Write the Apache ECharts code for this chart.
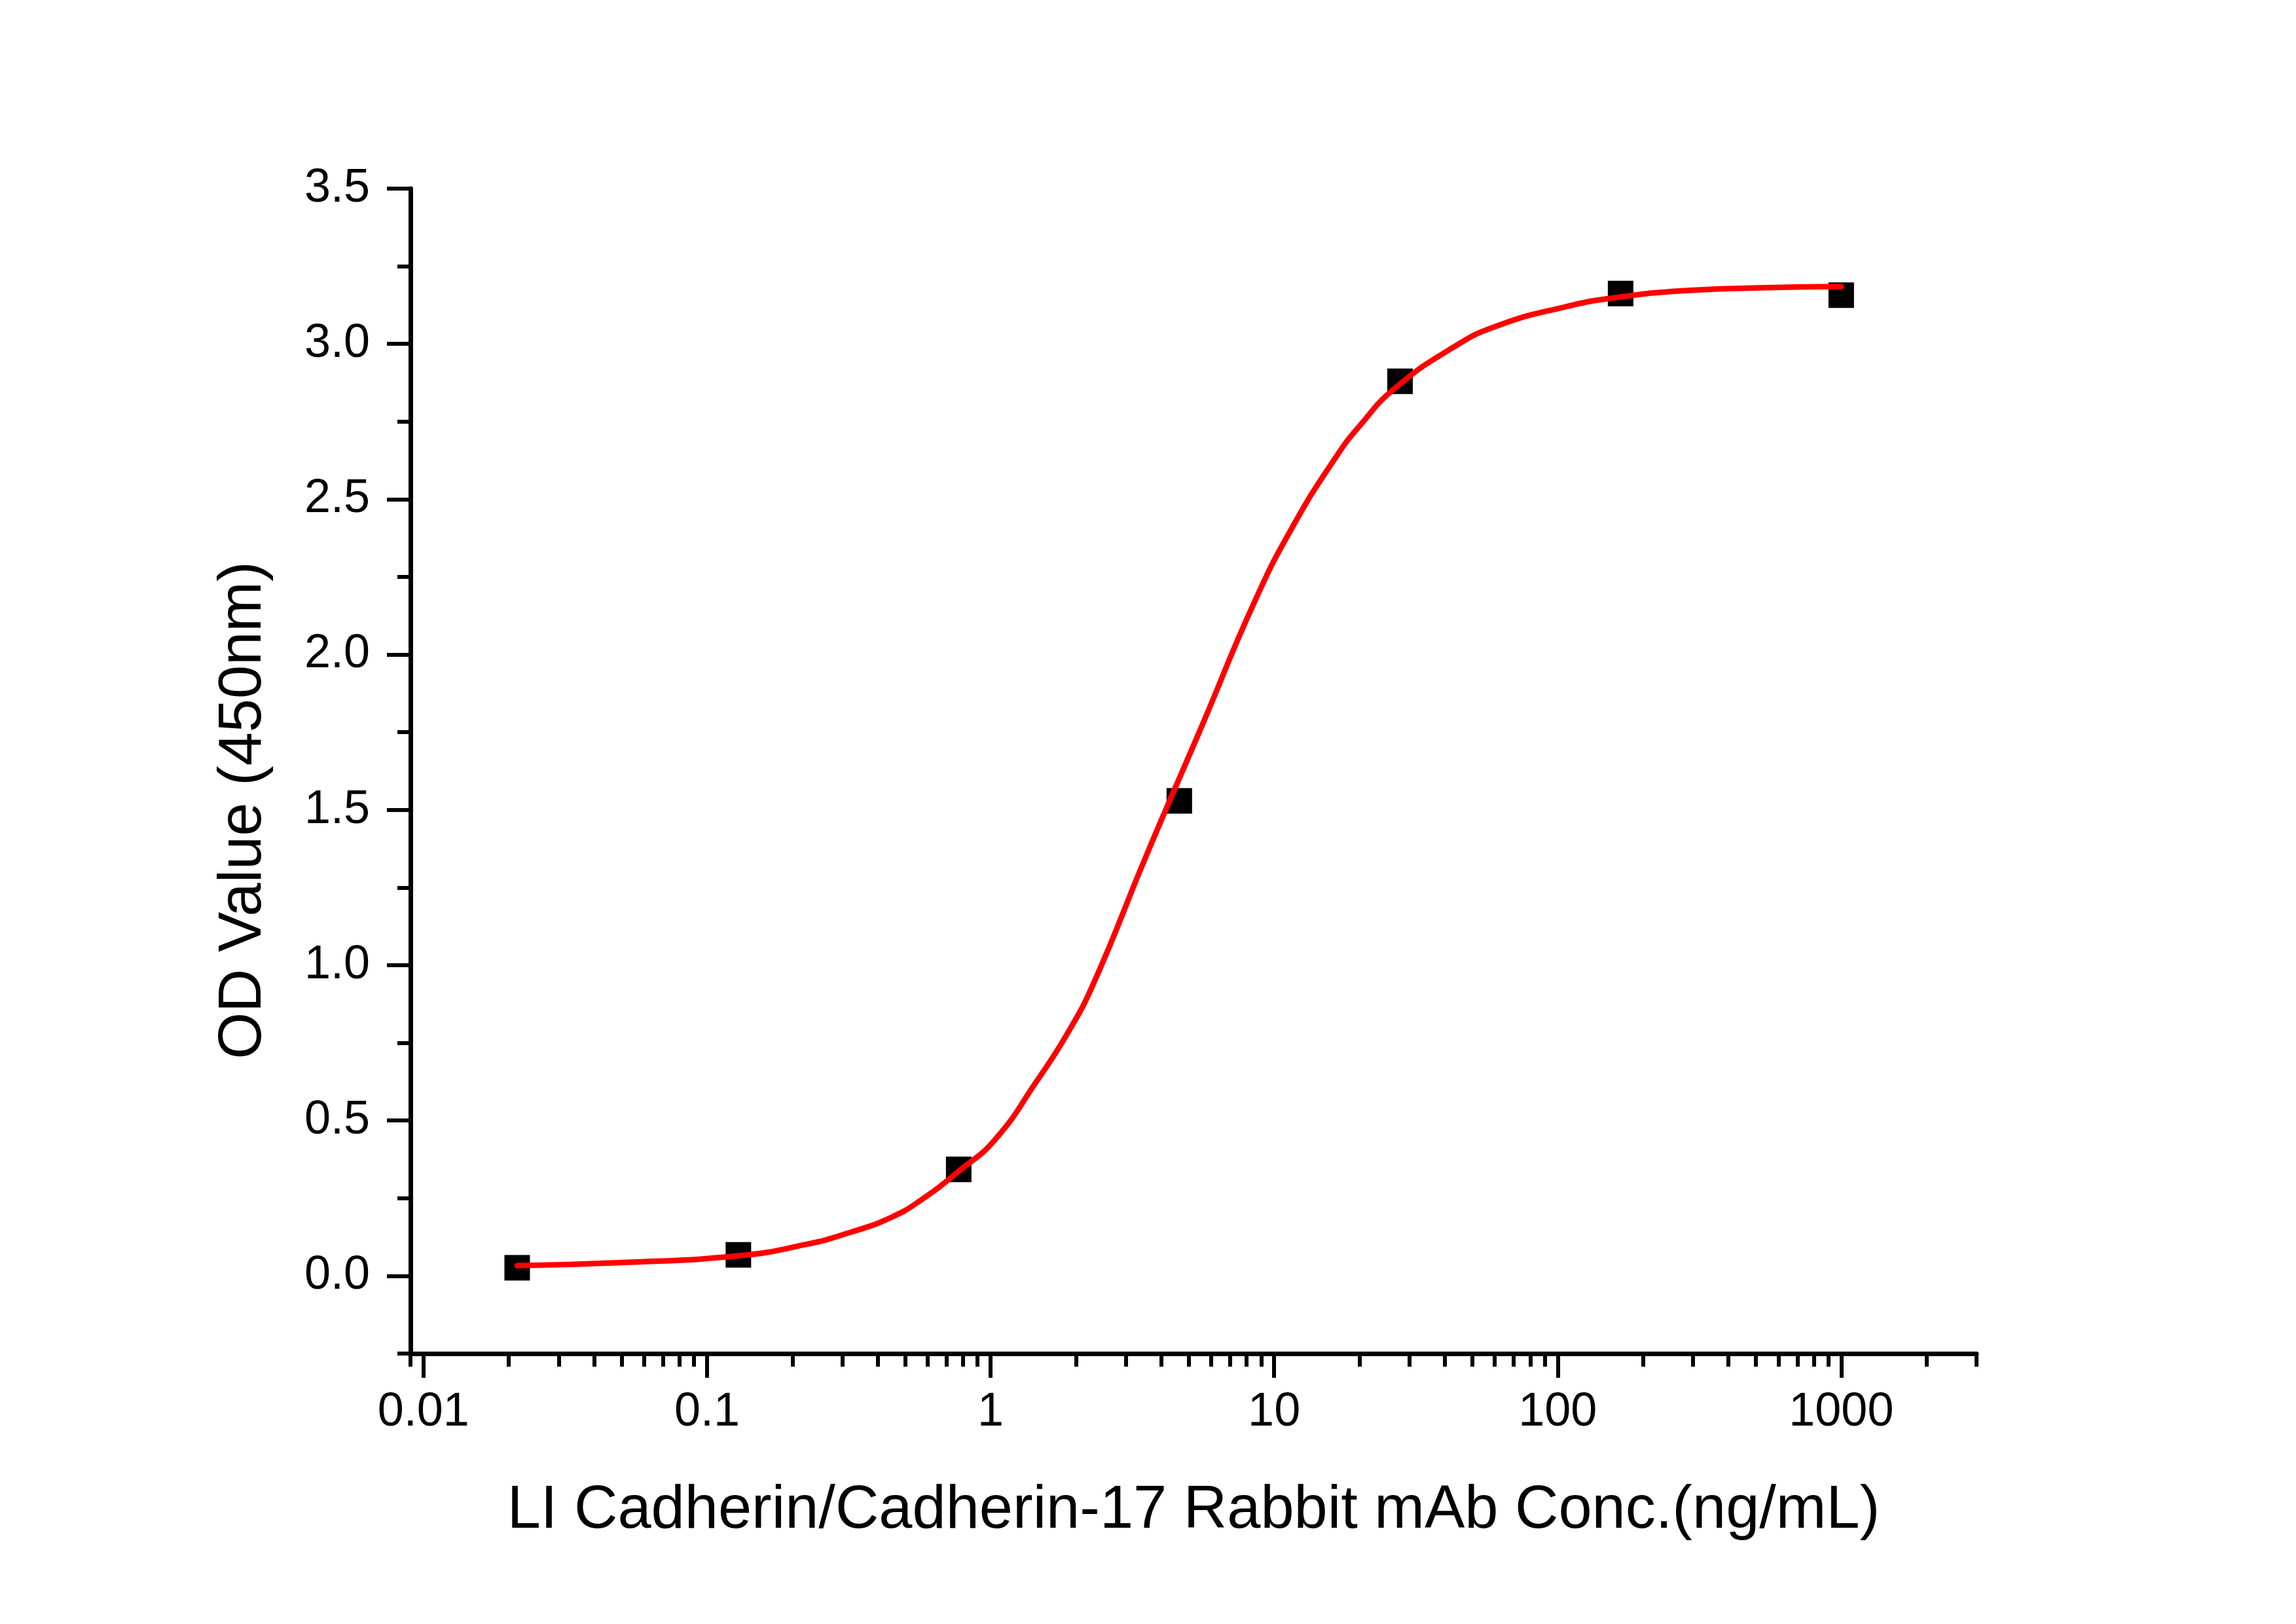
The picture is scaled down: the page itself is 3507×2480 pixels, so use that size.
<!DOCTYPE html>
<html>
<head>
<meta charset="UTF-8"/>
<title>ELISA</title>
<script src="https://cdn.jsdelivr.net/npm/echarts@6.0.0/dist/echarts.min.js"></script>
<style>
  html, body { margin: 0; padding: 0; background: #fff; }
  #chart { width: 3507px; height: 2480px; }
</style>
</head>
<body>
<div id="chart"></div>
<script>
// measured points (6-fold dilution)
var concs = [0.0214, 0.129, 0.772, 4.63, 27.8, 166.7, 1000];
var odValues = [0.026, 0.068, 0.343, 1.529, 2.88, 3.162, 3.157];

// fitted curve
var fitX = [0.0214, 0.05, 0.13, 0.22, 0.32, 0.45, 0.57, 0.78, 1.04, 1.45, 1.88, 2.33, 3.55, 5.56, 8.53, 11.6, 16.5, 20.2, 26.5, 43, 62, 107, 157, 265, 490, 1000];
var fitY = [0.033, 0.043, 0.065, 0.10, 0.14, 0.19, 0.245, 0.34, 0.44, 0.625, 0.785, 0.95, 1.355, 1.77, 2.17, 2.41, 2.635, 2.74, 2.855, 2.99, 3.06, 3.12, 3.148, 3.17, 3.18, 3.185];

// tick labels
var xMajor = [0.01, 0.1, 1, 10, 100, 1000];
var xMinor = [0.009];
for (var p = -2; p <= 2; p++) {
  for (var k = 2; k <= 9; k++) xMinor.push(+(k * Math.pow(10, p)).toPrecision(3));
}
xMinor.push(2000, 3000);
var yMajor = [0, 0.5, 1, 1.5, 2, 2.5, 3, 3.5];
var yMinor = [-0.25, 0.25, 0.75, 1.25, 1.75, 2.25, 2.75, 3.25];

var font = '"Liberation Sans", Arial, sans-serif';

var myChart = echarts.init(document.getElementById('chart'), null, { renderer: 'canvas', devicePixelRatio: 1 });

function pairs(xs, ys) {
  var out = [];
  for (var i = 0; i < xs.length; i++) out.push([xs[i], ys[i]]);
  return out;
}

var axisBase = {
  type: 'log',
  logBase: 10,
  min: 0.008999,
  max: 3000.01
};

var option = {
  backgroundColor: '#ffffff',
  animation: false,
  grid: { left: 627, right: 488, top: 288, bottom: 413, containLabel: false },
  xAxis: [
    Object.assign({}, axisBase, {
      position: 'bottom',
      name: 'LI Cadherin/Cadherin-17 Rabbit mAb Conc.(ng/mL)',
      nameLocation: 'middle',
      nameGap: 195,
      nameTextStyle: { fontFamily: font, fontSize: 92, color: '#000' },
      axisLine: { show: true, onZero: false, lineStyle: { color: '#000', width: 7 } },
      axisTick: { show: true, inside: false, length: 37, customValues: xMajor, lineStyle: { color: '#000', width: 6 } },
      axisLabel: {
        customValues: xMajor, margin: 54, fontFamily: font, fontSize: 72, color: '#000',
        formatter: function (v) { return String(+v.toPrecision(3)); }
      },
      splitLine: { show: false },
      minorTick: { show: false }
    }),
    Object.assign({}, axisBase, {
      position: 'bottom',
      axisLine: { show: false, onZero: false },
      axisTick: { show: true, length: 20, customValues: xMinor, lineStyle: { color: '#000', width: 6 } },
      axisLabel: { show: false },
      splitLine: { show: false }
    })
  ],
  yAxis: [
    {
      type: 'value',
      position: 'left',
      min: -0.25,
      max: 3.5,
      name: 'OD Value (450nm)',
      nameLocation: 'middle',
      nameGap: 208,
      nameTextStyle: { fontFamily: font, fontSize: 92, color: '#000', padding: [0, 120, 0, 0] },
      axisLine: { show: true, onZero: false, lineStyle: { color: '#000', width: 7 } },
      axisTick: { show: true, length: 36, customValues: yMajor, lineStyle: { color: '#000', width: 6 } },
      axisLabel: {
        customValues: yMajor, margin: 62, fontFamily: font, fontSize: 72, color: '#000',
        formatter: function (v) { return v.toFixed(1); }
      },
      splitLine: { show: false }
    },
    {
      type: 'value',
      position: 'left',
      min: -0.25,
      max: 3.5,
      axisLine: { show: false, onZero: false },
      axisTick: { show: true, length: 20, customValues: yMinor, lineStyle: { color: '#000', width: 6 } },
      axisLabel: { show: false },
      splitLine: { show: false }
    }
  ],
  series: [
    {
      name: 'OD',
      type: 'scatter',
      xAxisIndex: 0,
      yAxisIndex: 0,
      symbol: 'rect',
      symbolSize: 39,
      itemStyle: { color: '#000', opacity: 1 },
      data: pairs(concs, odValues),
      z: 2
    },
    {
      name: 'Fit',
      type: 'line',
      xAxisIndex: 0,
      yAxisIndex: 0,
      showSymbol: false,
      symbol: 'none',
      smooth: 0.5,
      lineStyle: { color: '#ff0000', width: 8.5, cap: 'round', join: 'round' },
      data: pairs(fitX, fitY),
      z: 3
    }
  ]
};
myChart.setOption(option, true);
</script>
</body>
</html>
